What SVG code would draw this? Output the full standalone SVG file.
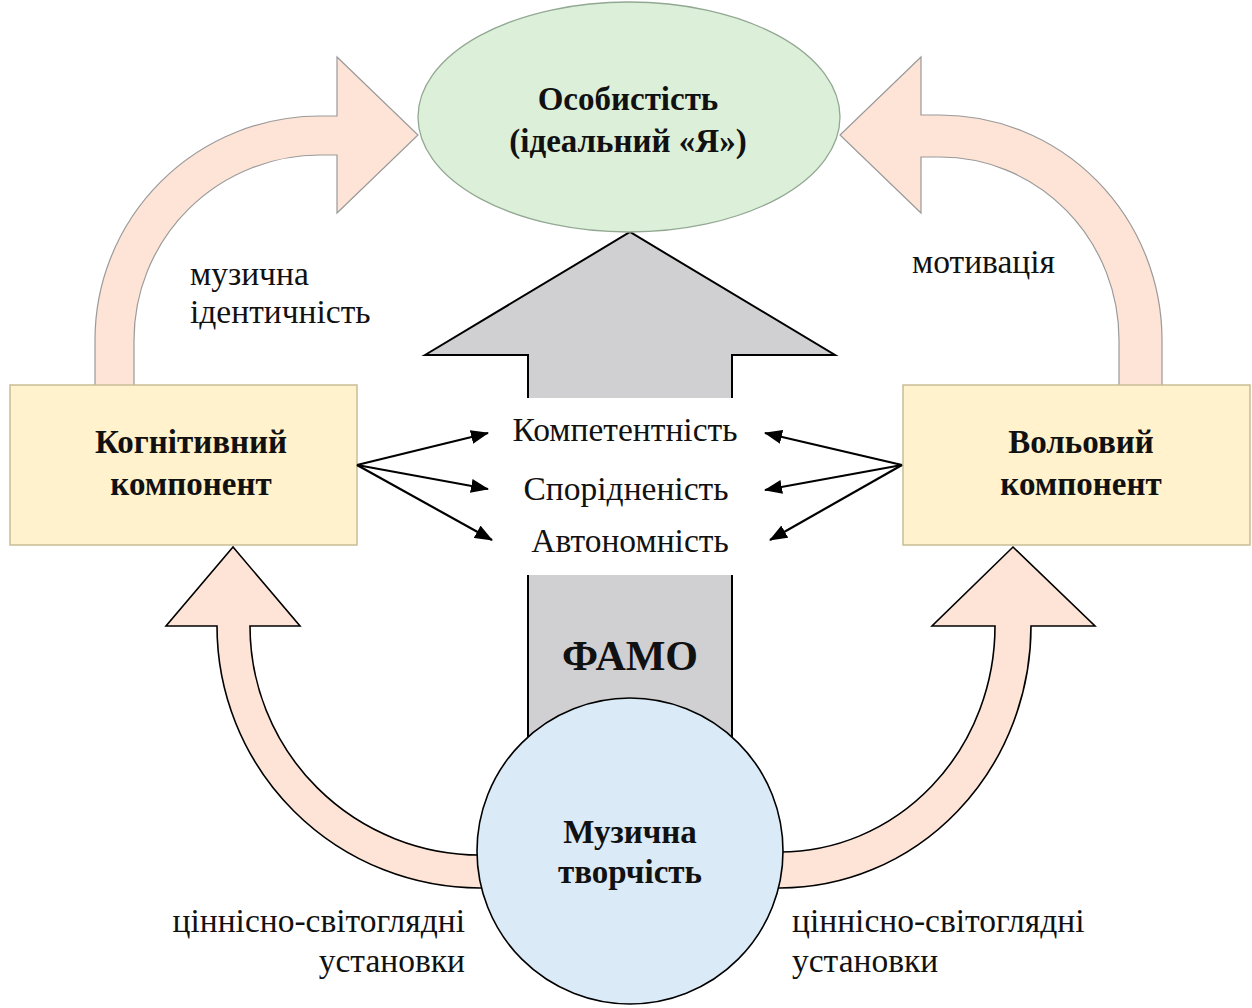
<svg xmlns="http://www.w3.org/2000/svg" width="1252" height="1008" viewBox="0 0 1252 1008">
  <defs>
    <style>
      .lbl { font-family: "Liberation Serif", "Times New Roman", serif; font-size: 33.5px; fill: #111; }
      .bold { font-family: "Liberation Serif", "Times New Roman", serif; font-size: 33px; font-weight: bold; fill: #111; }
      .flow-top { fill: #fde4d6; stroke: #9a9a9a; stroke-width: 1.2; }
      .flow-bottom { fill: #fde4d6; stroke: #000; stroke-width: 1.6; }
      .box { fill: #fff2cc; stroke: #c9bd96; stroke-width: 1.5; }
      .link { stroke: #000; stroke-width: 2.2; fill: none; marker-end: url(#head); }
    </style>
    <marker id="head" viewBox="0 0 18 14" refX="17" refY="7" markerWidth="18" markerHeight="14" markerUnits="userSpaceOnUse" orient="auto">
      <path d="M0,0 L18,7 L0,14 Z" fill="#000"/>
    </marker>
  </defs>

  <rect width="1252" height="1008" fill="#fff"/>

  <!-- curved arrows from the components up to the personality -->
  <g id="flows-top">
    <path class="flow-top" d="M95,390 L95,340 A225,224 0 0 1 320,116 L337,116 L337,57 L418,135 L337,213 L337,155 L320,155 A186,185 0 0 0 134,340 L134,390 Z"/>
    <path class="flow-top" d="M1162,390 L1162,340 A222,225 0 0 0 940,115 L921,115 L921,57 L840,135 L921,213 L921,157 L940,157 A179,183 0 0 1 1119,340 L1119,390 Z"/>
  </g>

  <!-- component boxes -->
  <g id="node-cognitive">
    <rect class="box" x="10" y="385" width="347" height="160"/>
    <text class="bold" x="191" y="453" text-anchor="middle">Когнітивний</text>
    <text class="bold" x="191" y="495" text-anchor="middle">компонент</text>
  </g>
  <g id="node-volitional">
    <rect class="box" x="903" y="385" width="347" height="160"/>
    <text class="bold" x="1081" y="453" text-anchor="middle">Вольовий</text>
    <text class="bold" x="1081" y="495" text-anchor="middle">компонент</text>
  </g>

  <!-- central block arrow ФАМО -->
  <g id="node-famo">
    <path d="M425,355 L630,232 L835,355 L732,355 L732,770 L528,770 L528,355 Z" fill="#d0cfd1" stroke="#000" stroke-width="2"/>
    <rect x="518" y="398" width="224" height="177" fill="#fff"/>
    <text class="bold" x="630" y="670" text-anchor="middle" style="font-size:42px">ФАМО</text>
  </g>

  <!-- curved arrows from music creativity to the components -->
  <g id="flows-bottom">
    <path class="flow-bottom" d="M217,626 L166,626 L233,547 L300,626 L250,626 A230,229 0 0 0 480,855 L560,855 L560,888 L480,888 A263,262 0 0 1 217,626 Z"/>
    <path class="flow-bottom" d="M1031,626 L1095,626 L1013,547 L932,626 L995,626 A215,226 0 0 1 780,852 L700,852 L700,888 L780,888 A251,262 0 0 0 1031,626 Z"/>
  </g>

  <!-- personality ellipse -->
  <g id="node-personality">
    <ellipse cx="629" cy="117" rx="211" ry="115" fill="#dcefd9" stroke="#93a893" stroke-width="1.3"/>
    <text class="bold" x="628" y="110" text-anchor="middle">Особистість</text>
    <text class="bold" x="628" y="152" text-anchor="middle">(ідеальний «Я»)</text>
  </g>

  <!-- music creativity circle -->
  <g id="node-creativity">
    <circle cx="630" cy="851" r="153" fill="#daeaf7" stroke="#000" stroke-width="1.6"/>
    <text class="bold" x="630" y="843" text-anchor="middle">Музична</text>
    <text class="bold" x="630" y="883" text-anchor="middle">творчість</text>
  </g>

  <!-- basic needs -->
  <g id="node-needs">
    <text class="lbl" x="625" y="441" text-anchor="middle">Компетентність</text>
    <text class="lbl" x="626" y="500" text-anchor="middle">Спорідненість</text>
    <text class="lbl" x="630" y="552" text-anchor="middle">Автономність</text>
  </g>

  <!-- connectors from components to needs -->
  <g id="connectors">
    <line class="link" x1="357" y1="465" x2="488" y2="433"/>
    <line class="link" x1="357" y1="465" x2="488" y2="489"/>
    <line class="link" x1="357" y1="465" x2="492" y2="540"/>
    <line class="link" x1="902" y1="465" x2="765" y2="433"/>
    <line class="link" x1="902" y1="465" x2="765" y2="490"/>
    <line class="link" x1="902" y1="465" x2="770" y2="540"/>
  </g>

  <!-- flow labels -->
  <g id="labels">
    <text class="lbl" x="190" y="285">музична</text>
    <text class="lbl" x="190" y="323">ідентичність</text>
    <text class="lbl" x="912" y="273">мотивація</text>
    <text class="lbl" x="465" y="932" text-anchor="end">ціннісно-світоглядні</text>
    <text class="lbl" x="465" y="972" text-anchor="end">установки</text>
    <text class="lbl" x="792" y="932">ціннісно-світоглядні</text>
    <text class="lbl" x="792" y="972">установки</text>
  </g>
</svg>
